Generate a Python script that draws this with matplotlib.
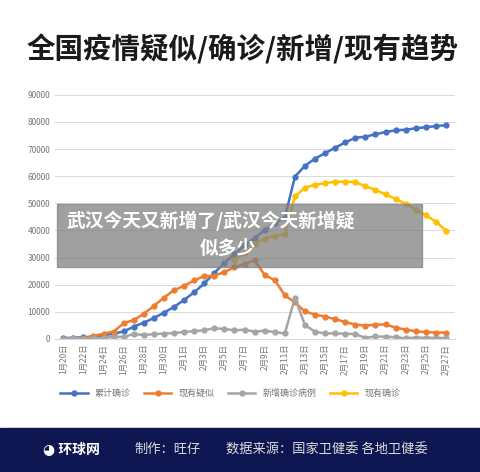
import matplotlib
matplotlib.use("Agg")
import matplotlib.pyplot as plt
from matplotlib.patches import Rectangle
import numpy as np

plt.rcParams['font.family'] = ['Noto Sans CJK SC', 'DejaVu Sans']

dates = ["1月20日","1月21日","1月22日","1月23日","1月24日","1月25日","1月26日","1月27日","1月28日","1月29日",
         "1月30日","1月31日","2月1日","2月2日","2月3日","2月4日","2月5日","2月6日","2月7日","2月8日",
         "2月9日","2月10日","2月11日","2月12日","2月13日","2月14日","2月15日","2月16日","2月17日","2月18日",
         "2月19日","2月20日","2月21日","2月22日","2月23日","2月24日","2月25日","2月26日","2月27日"]
cumulative = [291,440,571,830,1287,1975,2744,4515,5974,7711,9692,11791,14380,17205,20438,24324,28018,31161,34546,37198,
              40171,42638,44653,59804,63851,66492,68500,70548,72436,74185,74576,75465,76288,76936,77150,77658,78064,78497,78824]
suspected = [54,37,393,1072,1965,2684,5794,6973,9239,12167,15238,17988,19544,21558,23214,23260,24702,26359,27657,28942,
             23589,21675,16067,13435,10109,8969,8228,7264,6242,5248,4922,5206,5365,4148,3434,2824,2491,2358,2308]
new_cases = [77,149,131,259,444,688,769,1771,1459,1737,1982,2102,2590,2829,3235,3887,3694,3143,3399,2656,
             3062,2478,2015,15152,5090,2641,2009,2048,1886,1749,394,889,823,648,214,508,406,433,327]
current = [None]*17 + [29000,31500,35000,37000,38000,38800,52526,55748,56873,57416,57934,58016,57805,56303,54965,53284,51606,49824,47672,45604,43258,39919]
names = ["累计确诊","现有疑似","新增确诊病例","现有确诊"]
colors = ["#4472C4","#ED7D31","#A5A5A5","#FFC000"]

fig = plt.figure(figsize=(4.8,4.72), dpi=100)
fig.text(0.055, 0.895, "全国疫情疑似/确诊/新增/现有趋势", fontsize=20.5, fontweight='heavy', color='#1a1a1a', va='center')
ax = fig.add_axes([0.115, 0.282, 0.833, 0.517])
x = np.arange(len(dates))
cur = np.array([np.nan if v is None else v for v in current], dtype=float)
for vals, n, c in zip([cumulative, suspected, new_cases, cur], names, colors):
    ax.plot(x, vals, color=c, lw=1.8, marker='o', ms=3.5, label=n)
ax.set_xlim(-0.8, 38.9)
ax.set_ylim(0, 90000)
ax.set_yticks(range(0, 90001, 10000))
ax.grid(axis='y', color='#d9d9d9', lw=0.7)
ax.set_axisbelow(True)
for s in ax.spines.values():
    s.set_visible(False)
ax.spines['bottom'].set_visible(True); ax.spines['bottom'].set_color('#d9d9d9')
ax.set_xticks(x[::2])
ax.set_xticklabels(dates[::2], rotation=90, fontsize=6, color='#777777')
ax.tick_params(axis='y', labelsize=6, colors='#777777', length=0)
ax.tick_params(axis='x', length=0)
fig.legend(loc='center', bbox_to_anchor=(0.48, 0.167), ncol=4, frameon=False, fontsize=6.5,
           labelcolor='#777777', handlelength=3, columnspacing=1.5)
fig.add_artist(Rectangle((0,0), 1, 44/472, transform=fig.transFigure, color='#0d1650'))
fig.text(0.09, 0.047, "◕ 环球网", fontsize=10, color='white', fontweight='bold', va='center')
fig.text(0.28, 0.047, "制作：旺仔", fontsize=9.5, color='#dddddd', va='center')
fig.text(0.47, 0.047, "数据来源：国家卫健委 各地卫健委", fontsize=9.5, color='#dddddd', va='center')
fig.add_artist(Rectangle((57/480, 1-267/472), 365/480, 63/472, transform=fig.transFigure, color='#808080', alpha=0.75))
fig.text(0.138, 1-221/472, "武汉今天又新增了/武汉今天新增疑", fontsize=13.5, color='white', fontweight='bold', ha='left', va='center')
fig.text(0.475, 1-248/472, "似多少", fontsize=13.5, color='white', fontweight='bold', ha='center', va='center')
fig.savefig("out.png", dpi=100)
